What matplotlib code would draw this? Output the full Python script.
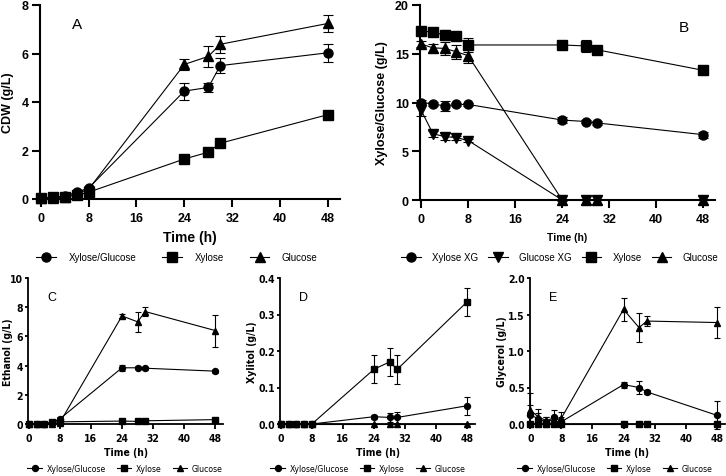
import matplotlib
matplotlib.use('Agg')
import matplotlib.pyplot as plt
from matplotlib import font_manager
from matplotlib.font_manager import FontProperties
from matplotlib.lines import Line2D

MAIN = 'Liberation Sans'
plt.rcParams['font.family'] = [MAIN, 'DejaVu Sans']

# the lower panels use a condensed face; take one if any is installed
narrow_bold = None
narrow_reg = None
for f in font_manager.fontManager.ttflist:
    cond = ('Narrow' in f.name or 'Condensed' in f.name
            or f.stretch in ('condensed', 'semi-condensed', 'extra-condensed'))
    if not cond or f.style != 'normal':
        continue
    w = f.weight if isinstance(f.weight, int) else (700 if f.weight == 'bold' else 400)
    if w >= 600 and narrow_bold is None:
        narrow_bold = f.fname
    if w <= 450 and narrow_reg is None:
        narrow_reg = f.fname


def nfont(size, bold=True):
    path = narrow_bold if bold else narrow_reg
    if path:
        return FontProperties(fname=path, size=size)
    return FontProperties(family=MAIN, size=size * 0.85, weight='bold' if bold else 'normal')


time = [0, 2, 4, 6, 8, 24, 28, 30, 48]

# A - CDW
cdw_xg = [0.05, 0.07, 0.12, 0.28, 0.45, 4.45, 4.6, 5.5, 6.03]
cdw_xg_err = [0.02, 0.02, 0.03, 0.05, 0.08, 0.35, 0.2, 0.3, 0.38]
cdw_x = [0.05, 0.07, 0.1, 0.15, 0.28, 1.65, 1.93, 2.3, 3.48]
cdw_x_err = [0.01, 0.01, 0.02, 0.02, 0.03, 0.08, 0.08, 0.08, 0.08]
cdw_g = [0.05, 0.06, 0.1, 0.22, 0.4, 5.55, 5.88, 6.38, 7.24]
cdw_g_err = [0.02, 0.02, 0.02, 0.04, 0.06, 0.24, 0.43, 0.36, 0.34]

# B - sugars
sug_xyl_xg = [10.0, 9.85, 9.65, 9.8, 9.8, 8.2, 8.05, 7.9, 6.7]
sug_xyl_xg_err = [0.3, 0.2, 0.5, 0.15, 0.15, 0.3, 0.2, 0.2, 0.3]
sug_glc_xg = [9.2, 6.8, 6.5, 6.4, 6.1, 0, 0, 0, 0]
sug_glc_xg_err = [0.6, 0.3, 0.35, 0.2, 0.2, 0.1, 0.4, 0.4, 0.4]
sug_xyl = [17.3, 17.25, 16.9, 16.8, 15.9, 15.9, 15.8, 15.4, 13.3]
sug_xyl_err = [0.3, 0.2, 0.5, 0.2, 0.7, 0.4, 0.6, 0.3, 0.4]
sug_glc = [16.0, 15.6, 15.55, 15.2, 14.8, 0, 0, 0, 0]
sug_glc_err = [0.3, 0.45, 0.7, 0.7, 0.7, 0, 0, 0, 0]

# C - ethanol
eth_xg = [0, 0, 0, 0.1, 0.35, 3.85, 3.85, 3.82, 3.62]
eth_xg_err = [0, 0, 0, 0.05, 0.1, 0.2, 0.1, 0.1, 0.1]
eth_x = [0, 0, 0, 0.15, 0.15, 0.2, 0.18, 0.22, 0.3]
eth_x_err = [0, 0, 0, 0.05, 0.05, 0.05, 0.05, 0.05, 0.05]
eth_g = [0, 0, 0, 0, 0.1, 7.4, 7.0, 7.7, 6.4]
eth_g_err = [0, 0, 0, 0, 0.05, 0.15, 0.7, 0.3, 1.1]

# D - xylitol
xyt_xg = [0, 0, 0, 0, 0, 0.02, 0.018, 0.018, 0.05]
xyt_xg_err = [0, 0, 0, 0, 0, 0.005, 0.012, 0.015, 0.025]
xyt_x = [0, 0, 0, 0, 0, 0.15, 0.17, 0.15, 0.335]
xyt_x_err = [0, 0, 0, 0, 0, 0.038, 0.039, 0.04, 0.038]
xyt_g = [0, 0, 0, 0, 0, 0, 0, 0, 0]
xyt_g_err = [0, 0, 0, 0, 0, 0, 0, 0, 0]

# E - glycerol
gly_xg = [0.13, 0.07, 0.03, 0.09, 0.03, 0.54, 0.5, 0.44, 0.12]
gly_xg_err = [0.13, 0.08, 0.07, 0.1, 0.06, 0.04, 0.09, 0.03, 0.19]
gly_x = [0, 0, 0, 0, 0, 0, 0, 0, 0]
gly_x_err = [0, 0, 0, 0, 0, 0, 0, 0, 0]
gly_g = [0.19, 0.1, 0.05, 0.05, 0.08, 1.57, 1.32, 1.41, 1.39]
gly_g_err = [0.23, 0.11, 0.05, 0.06, 0.08, 0.16, 0.2, 0.07, 0.21]

xticks = [0, 8, 16, 24, 32, 40, 48]
labels3 = ['Xylose/Glucose', 'Xylose', 'Glucose']


def style_axis(ax, ylim, yticks, ylabels, fp, lw, xlen, xpad, ylen, ypad):
    ax.set_xlim(-0.2, 50)
    ax.set_ylim(*ylim)
    ax.set_xticks(xticks)
    ax.set_yticks(yticks)
    ax.set_yticklabels(ylabels)
    for s in ['top', 'right']:
        ax.spines[s].set_visible(False)
    for s in ['left', 'bottom']:
        ax.spines[s].set_linewidth(lw)
    ax.tick_params(axis='x', width=lw, length=xlen, pad=xpad, direction='out')
    ax.tick_params(axis='y', width=lw, length=ylen, pad=ypad, direction='out')
    for lab in ax.get_xticklabels() + ax.get_yticklabels():
        lab.set_fontproperties(fp)


def draw(ax, series, ms, cap, lw=0.8):
    for y, err, m in series:
        ax.errorbar(time, y, yerr=err, fmt='-' + m, color='black', ms=ms,
                    lw=lw, elinewidth=0.8, capsize=cap, capthick=0.8,
                    clip_on=False, zorder=3)


fig = plt.figure(figsize=(7.26, 4.77), dpi=100)
big_fp = FontProperties(family=MAIN, size=9, weight='bold')

# ---- A ----
axA = fig.add_axes([39.5 / 726, 1 - 200 / 477, 300.5 / 726, 194 / 477])
draw(axA, [(cdw_xg, cdw_xg_err, 'o'), (cdw_x, cdw_x_err, 's'), (cdw_g, cdw_g_err, '^')], 6.5, 3.5)
style_axis(axA, (0, 8), [0, 2, 4, 6, 8], ['0', '2', '4', '6', '8'], big_fp, 1.5, 5.5, 4, 5.5, 2.5)
axA.set_ylabel('CDW (g/L)', fontsize=9, fontweight='bold')
axA.yaxis.set_label_coords(-0.085, 0.5)
axA.set_xlabel('Time (h)', fontsize=10, fontweight='bold')
axA.xaxis.set_label_coords(0.5, -0.16)
axA.text(0.125, 0.9, 'A', fontsize=11, ha='center', va='center', transform=axA.transAxes)

# ---- B ----
axB = fig.add_axes([420 / 726, 1 - 201 / 477, 295 / 726, 195 / 477])
draw(axB, [(sug_xyl_xg, sug_xyl_xg_err, 'o'), (sug_glc_xg, sug_glc_xg_err, 'v'),
           (sug_xyl, sug_xyl_err, 's'), (sug_glc, sug_glc_err, '^')], 6.5, 3.5)
style_axis(axB, (0, 20), [0, 5, 10, 15, 20], ['0', '5', '10', '15', '20'], big_fp, 1.5, 5.5, 4, 5.5, 2.5)
axB.set_ylabel('Xylose/Glucose (g/L)', fontsize=9, fontweight='bold')
axB.yaxis.set_label_coords(-0.108, 0.5)
axB.set_xlabel('Time (h)', fontsize=7.5, fontweight='bold')
axB.xaxis.set_label_coords(0.5, -0.165)
axB.text(0.895, 0.885, 'B', fontsize=11, ha='center', va='center', transform=axB.transAxes)

# ---- bottom row ----
bottom = [
    ('C', 28, 'Ethanol (g/L)', (0, 10), [0, 2, 4, 6, 8, 10], ['0', '2', '4', '6', '8', '10'],
     [(eth_xg, eth_xg_err), (eth_x, eth_x_err), (eth_g, eth_g_err)], -0.077, 125),
    ('D', 280, 'Xylitol (g/L)', (0, 0.4), [0, 0.1, 0.2, 0.3, 0.4], ['0.0', '0.1', '0.2', '0.3', '0.4'],
     [(xyt_xg, xyt_xg_err), (xyt_x, xyt_x_err), (xyt_g, xyt_g_err)], -0.118, 368),
    ('E', 529.5, 'Glycerol (g/L)', (0, 2.0), [0, 0.5, 1.0, 1.5, 2.0], ['0.0', '0.5', '1.0', '1.5', '2.0'],
     [(gly_xg, gly_xg_err), (gly_x, gly_x_err), (gly_g, gly_g_err)], -0.115, 615),
]
for letter, left, ylab, ylim, yt, ytl, ser, lx, legx in bottom:
    ax = fig.add_axes([left / 726, 1 - 425 / 477, 195 / 726, 146 / 477])
    draw(ax, [(s[0], s[1], m) for s, m in zip(ser, ['o', 's', '^'])], 4.3, 2.3)
    style_axis(ax, ylim, yt, ytl, nfont(7.5), 1.3, 3.5, 3, 2.3, 1.2)
    ax.set_ylabel(ylab, fontproperties=nfont(7.5))
    ax.yaxis.set_label_coords(lx, 0.5)
    ax.set_xlabel('Time (h)', fontproperties=nfont(7.5))
    ax.xaxis.set_label_coords(0.5, -0.16)
    ax.text(0.12, 0.87, letter, fontsize=9, ha='center', va='center', transform=ax.transAxes)
    handles = [Line2D([], [], color='black', marker=m, ms=4.3, lw=0.8) for m in ['o', 's', '^']]
    fig.legend(handles, labels3, loc='center', bbox_to_anchor=(legx / 726, 1 - 470 / 477),
               ncol=3, frameon=False, handlelength=1.7, handletextpad=0.5, columnspacing=1.3,
               prop=nfont(6.2, bold=False))

# top legends
hA = [Line2D([], [], color='black', marker=m, ms=6.5, lw=0.8) for m in ['o', 's', '^']]
fig.legend(hA, labels3, loc='center', bbox_to_anchor=(177 / 726, 1 - 258 / 477), ncol=3,
           frameon=False, handlelength=2.0, handletextpad=1.3, columnspacing=2.7,
           prop={'family': MAIN, 'size': 7})
hB = [Line2D([], [], color='black', marker=m, ms=6.5, lw=0.8) for m in ['o', 'v', 's', '^']]
fig.legend(hB, ['Xylose XG', 'Glucose XG', 'Xylose', 'Glucose'], loc='center',
           bbox_to_anchor=(560 / 726, 1 - 258 / 477), ncol=4, frameon=False,
           handlelength=2.0, handletextpad=1.2, columnspacing=1.0,
           prop={'family': MAIN, 'size': 7})

fig.savefig('out.png', dpi=100)
